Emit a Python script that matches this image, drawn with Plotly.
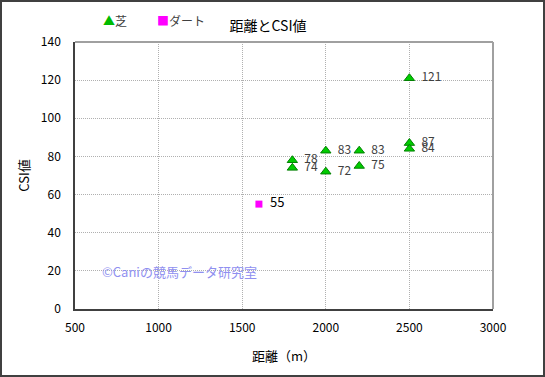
import plotly.graph_objects as go

turf_dist = [1800, 1800, 2000, 2000, 2200, 2200, 2500, 2500, 2500]
turf_csi = [78, 74, 83, 72, 83, 75, 121, 87, 84]
dirt_dist = [1600]
dirt_csi = [55]

FONT = "Noto Sans CJK JP"

fig = go.Figure()
fig.add_trace(go.Scatter(
    x=turf_dist, y=turf_csi, mode="markers+text", name="芝",
    text=[f"  {v}" for v in turf_csi], textposition="middle right",
    textfont=dict(size=12, color="#404040", family=FONT),
    marker=dict(symbol="triangle-up", size=9, color="#00cc00",
                line=dict(color="#008000", width=1)),
))
fig.add_trace(go.Scatter(
    x=dirt_dist, y=dirt_csi, mode="markers+text", name="ダート",
    text=[f"  {v}" for v in dirt_csi], textposition="middle right",
    textfont=dict(size=13, color="#000000", family=FONT),
    marker=dict(symbol="square", size=7, color="#ff00ff", line=dict(width=0)),
))

L, R, T, B = 75, 52, 42, 68
W, H = 545, 377
pw, ph = W - L - R, H - T - B

fig.update_layout(
    width=W, height=H,
    margin=dict(l=L, r=R, t=T, b=B),
    paper_bgcolor="white", plot_bgcolor="white",
    font=dict(family=FONT, size=12, color="#000000"),
    title=dict(text="距離とCSI値", x=268 / W, xanchor="center",
               y=1 - 26 / H, yanchor="middle",
               font=dict(size=14, color="#000000", family=FONT)),
    showlegend=False,
    xaxis=dict(range=[500, 3000], dtick=500, tick0=500,
               showline=True, linecolor="#404040", linewidth=1.5,
               showgrid=True, gridcolor="#b0b0b0", griddash="1px,1px", gridwidth=1,
               zeroline=False, ticks="", ticklen=0, ticklabelstandoff=7,
               tickfont=dict(size=12, color="#000000"),
               title=dict(text="距離（m）", font=dict(size=13), standoff=18)),
    yaxis=dict(range=[0, 140], dtick=20, tick0=0,
               showline=True, linecolor="#404040", linewidth=1.5,
               showgrid=True, gridcolor="#b0b0b0", griddash="1px,1px", gridwidth=1,
               zeroline=False, ticks="", ticklen=0, ticklabelstandoff=10,
               tickfont=dict(size=12, color="#000000"),
               title=dict(text="CSI値", font=dict(size=13), standoff=8)),
)

# plot-area top/right gray border
fig.add_shape(type="line", xref="paper", yref="paper", x0=0, x1=1, y0=1, y1=1,
              line=dict(color="#a0a0a0", width=2))
fig.add_shape(type="line", xref="paper", yref="paper", x0=1, x1=1, y0=0, y1=1,
              line=dict(color="#a0a0a0", width=2))
# outer chart border
fig.add_shape(type="rect", xref="paper", yref="paper",
              x0=(1 - L) / pw, x1=(W - 1 - L) / pw,
              y0=(H - B - (H - 1)) / ph, y1=(H - B - 1) / ph,
              line=dict(color="#404040", width=2), layer="below")

# legend (text with coloured symbols)
fig.add_annotation(text="<span style='color:#00bb00'>▲</span>芝", xref="paper", yref="paper",
                   x=(101 - L) / pw, y=(H - B - 20) / ph, xanchor="left", yanchor="middle",
                   showarrow=False, font=dict(size=12, color="#404040", family=FONT))
fig.add_annotation(text="<span style='color:#ff00ff'>■</span>ダート", xref="paper", yref="paper",
                   x=(155 - L) / pw, y=(H - B - 20) / ph, xanchor="left", yanchor="middle",
                   showarrow=False, font=dict(size=12, color="#404040", family=FONT))

fig.add_annotation(text="©Caniの競馬データ研究室", xref="paper", yref="paper",
                   x=(100 - L) / pw, y=(H - B - 271) / ph, xanchor="left", yanchor="middle",
                   showarrow=False, font=dict(size=13, color="#9090f0", family=FONT))

fig.write_html("out.html", config={"displayModeBar": False},
               post_script="document.body.style.margin='0';")
